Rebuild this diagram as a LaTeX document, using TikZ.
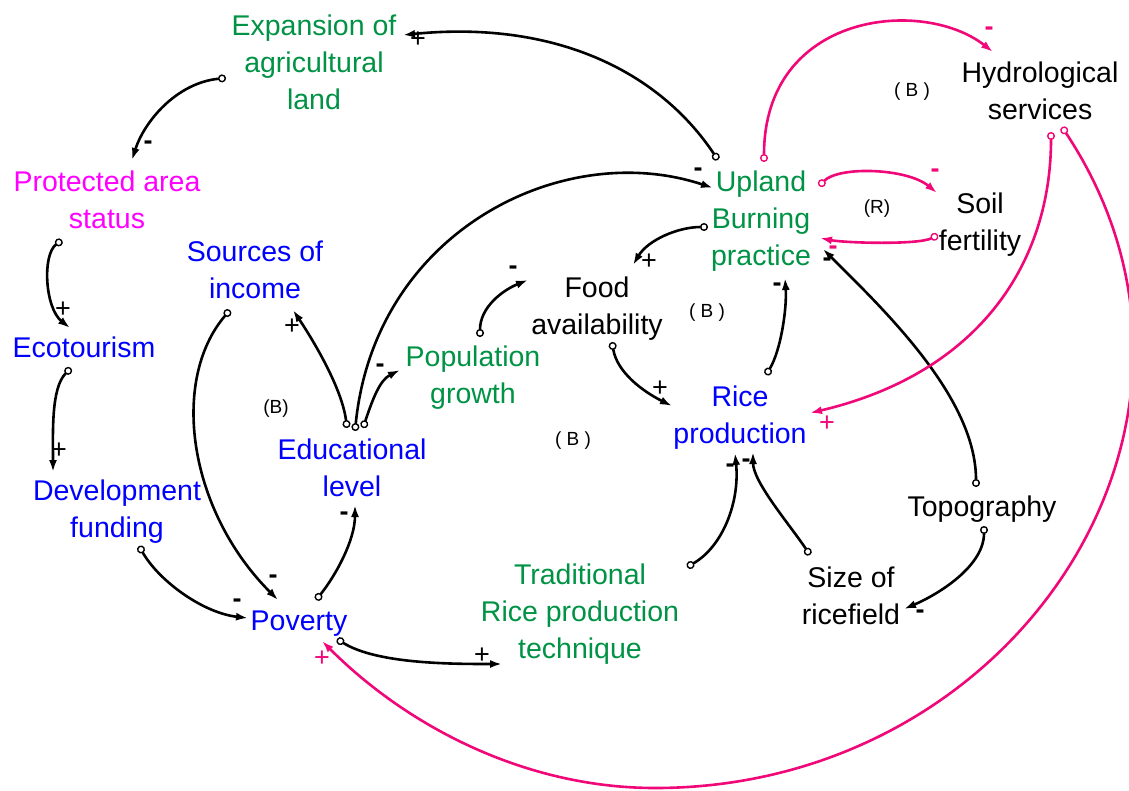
\documentclass[tikz,border=0pt]{standalone}
\usepackage{fontspec}
\setmainfont{Liberation Sans}
\usetikzlibrary{arrows.meta,positioning}
\definecolor{vargreen}{RGB}{0,146,69}
\definecolor{varblue}{RGB}{0,0,255}
\definecolor{varmagenta}{RGB}{255,0,255}
\definecolor{linkpink}{RGB}{240,8,120}

\begin{document}
\begin{tikzpicture}[x=1pt, y=-1pt, every node/.style={inner sep=0pt}]
	\tikzset{var/.style={align=center,font=\fontsize{28.5}{37}\selectfont},
		link/.style={line width=2.6pt,{Circle[open,length=8pt,width=8pt,line width=1.4pt]}-{Latex[length=12pt,width=8pt]}},
		plink/.style={link,draw=linkpink},
		plus/.style={font=\fontsize{27}{27}\selectfont},
		minus/.style={font=\fontsize{27}{27}\selectfont\bfseries},
		pplus/.style={plus,text=linkpink},
		pminus/.style={minus,text=linkpink},
		loop/.style={font=\fontsize{19}{19}\selectfont}}
	
	\useasboundingbox (0,0) rectangle (1129,790);
	
	% variables
	\node[var,text=vargreen] (expansion) at (314,62) {Expansion of\\agricultural\\land};
	\node[var,text=varmagenta] (protected) at (107,200) {Protected area\\status};
	\node[var,text=varblue] (income) at (255,270) {Sources of\\income};
	\node[var,text=varblue] (ecotourism) at (84,347) {Ecotourism};
	\node[var,text=varblue] (devfund) at (117,512) {Development\\funding};
	\node[var,text=varblue] (poverty) at (299,624) {Poverty};
	\node[var,text=varblue] (education) at (352,468) {Educational\\level};
	\node[var,text=vargreen] (population) at (473,378) {Population\\growth};
	\node[var] (food) at (597,309) {Food\\availability};
	\node[var,text=vargreen] (upland) at (761,221) {Upland\\Burning\\practice};
	\node[var] (hydro) at (1040,91) {Hydrological\\services};
	\node[var] (soil) at (980,225) {Soil\\fertility};
	\node[var,text=varblue] (rice) at (740,418) {Rice\\production};
	\node[var] (topo) at (982,509) {Topography};
	\node[var] (ricefield) at (851,596) {Size of\\ricefield};
	\node[var,text=vargreen] (tradition) at (580,614) {Traditional\\Rice production\\technique};
	
	% loop markers
	\node[loop] (loopB1) at (912,92) {( B )};
	\node[loop] (loopR) at (877,209) {(R)};
	\node[loop] (loopB2) at (707,313) {( B )};
	\node[loop] (loopB3) at (276,409) {(B)};
	\node[loop] (loopB4) at (573,441) {( B )};
	
	% causal links
	\draw[link] ([shift={(-43,-61)}]upland.center) .. controls +(-60,-90) and +(150,-15) .. ([shift={(89,-27)}]expansion.center);
	\draw[link] ([shift={(-88,16)}]expansion.center) .. controls +(-50,5) and +(12,-38) .. ([shift={(25,-40)}]protected.center);
	\draw[link] ([shift={(-45,40)}]protected.center) .. controls +(-20,15) and +(-25,-20) .. ([shift={(-14,-19)}]ecotourism.center);
	\draw[link] ([shift={(-13,21)}]ecotourism.center) .. controls +(-20,20) and +(0,-40) .. ([shift={(-64,-40)}]devfund.center);
	\draw[link] ([shift={(22,34)}]devfund.center) .. controls +(20,35) and +(-45,-5) .. ([shift={(-51,-6)}]poverty.center);
	\draw[link] ([shift={(-25,40)}]income.center) .. controls +(-60,70) and +(-90,-90) .. ([shift={(-21,-24)}]poverty.center);
	\draw[link] ([shift={(17,-24)}]poverty.center) .. controls +(20,-25) and +(0,35) .. ([shift={(3,37)}]education.center);
	\draw[link] ([shift={(-5,-40)}]education.center) .. controls +(-5,-40) and +(20,30) .. ([shift={(38,40)}]income.center);
	\draw[link] ([shift={(3,-37)}]education.center) .. controls +(20,-200) and +(-150,-50) .. ([shift={(-48,-33)}]upland.center);
	\draw[link] ([shift={(11,-40)}]education.center) .. controls +(10,-30) and +(-20,10) .. ([shift={(-73,-8)}]population.center);
	\draw[link] ([shift={(7,-41)}]population.center) .. controls +(0,-30) and +(-25,10) .. ([shift={(-69,-29)}]food.center);
	\draw[link] ([shift={(-53,6)}]upland.center) .. controls +(-30,0) and +(15,-25) .. ([shift={(36,-44)}]food.center);
	\draw[link] ([shift={(15,33)}]food.center) .. controls +(5,30) and +(-30,-15) .. ([shift={(-68,-12)}]rice.center);
	\draw[link] ([shift={(26,-43)}]rice.center) .. controls +(15,-25) and +(2,30) .. ([shift={(24,57)}]upland.center);
	\draw[link] ([shift={(-6,-22)}]topo.center) .. controls +(0,-90) and +(60,60) .. ([shift={(62,28)}]upland.center);
	\draw[link] ([shift={(2,17)}]topo.center) .. controls +(0,40) and +(35,-15) .. ([shift={(53,13)}]ricefield.center);
	\draw[link] ([shift={(-41,-41)}]ricefield.center) .. controls +(-20,-30) and +(0,30) .. ([shift={(13,34)}]rice.center);
	\draw[link] ([shift={(107,-47)}]tradition.center) .. controls +(35,-20) and +(5,50) .. ([shift={(-5,35)}]rice.center);
	\draw[link] ([shift={(38,15)}]poverty.center) .. controls +(40,25) and +(-50,0) .. ([shift={(-78,50)}]tradition.center);
	
	% environmental links
	\coordinate (arcbottom) at (655,788);
	\draw[plink] ([shift={(3,-59)}]upland.center) .. controls +(0,-150) and +(-70,-55) .. ([shift={(-47,-39)}]hydro.center);
	\draw[plink] ([shift={(58,-35)}]upland.center) .. controls +(20,-20) and +(-30,-25) .. ([shift={(-43,-32)}]soil.center);
	\draw[plink] ([shift={(-42,10)}]soil.center) .. controls +(-20,10) and +(25,5) .. ([shift={(59,17)}]upland.center);
	\draw[plink] ([shift={(11,41)}]hydro.center) .. controls +(0,130) and +(170,-40) .. ([shift={(70,-5)}]rice.center);
	\draw[plink] ([shift={(22,36)}]hydro.center) .. controls +(195,295) and +(361,0) .. (arcbottom)
		.. controls +(-128,0) and +(87,87) .. ([shift={(23,17)}]poverty.center);
	
	% polarities
	\node[plus] (sExp) at (418,40) {+};
	\node[minus] (sProt) at (148,145) {-};
	\node[plus] (sEco) at (63,310) {+};
	\node[plus] (sDev) at (59,451) {+};
	\node[minus] (sPovA) at (237,603) {-};
	\node[minus] (sPovB) at (273,579) {-};
	\node[minus] (sEdu) at (344,516) {-};
	\node[plus] (sInc) at (292,327) {+};
	\node[minus] (sPop) at (380,368) {-};
	\node[minus] (sUplA) at (698,172) {-};
	\node[minus] (sFoodA) at (513,270) {-};
	\node[plus] (sFoodB) at (649,262) {+};
	\node[plus] (sRiceA) at (660,389) {+};
	\node[minus] (sUplB) at (777,287) {-};
	\node[minus] (sUplC) at (827,262) {-};
	\node[minus] (sField) at (920,614) {-};
	\node[minus] (sRiceB) at (730,468) {-};
	\node[minus] (sRiceC) at (746,463) {-};
	\node[plus] (sTrad) at (482,656) {+};
	\node[pminus] (sHydro) at (989,31) {-};
	\node[pminus] (sSoil) at (935,173) {-};
	\node[pminus] (sUplD) at (833,250) {-};
	\node[pplus] (sRiceD) at (827,424) {+};
	\node[pplus] (sPovC) at (322,659) {+};
\end{tikzpicture}
\end{document}
